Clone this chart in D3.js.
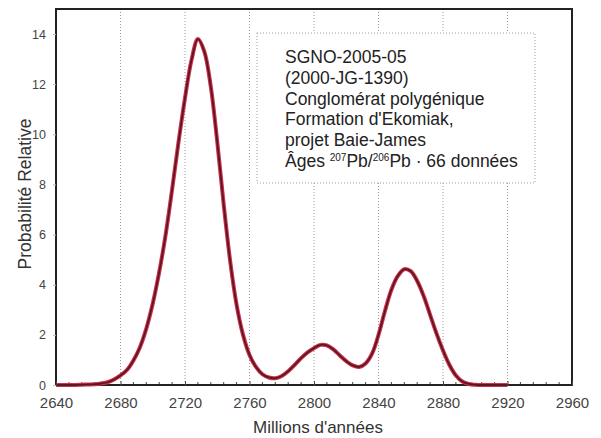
<!DOCTYPE html>
<html>
<head>
<meta charset="utf-8">
<script src="https://cdn.jsdelivr.net/npm/d3@7"></script>
<style>
  html, body { margin: 0; padding: 0; background: #fff; }
  svg { display: block; font-family: "Liberation Sans", Arial, sans-serif; }
</style>
</head>
<body>
<svg id="chart" width="601" height="438"></svg>
<script>
// ages (Ma) and relative probability
const ages = [
  2640, 2644, 2648, 2652, 2656, 2660, 2664, 2668, 2672, 2676,
  2680, 2684, 2688, 2692, 2696, 2700, 2704, 2708, 2712, 2716,
  2720, 2724, 2728, 2732, 2736, 2740, 2744, 2748, 2752, 2756,
  2760, 2764, 2768, 2772, 2776, 2780, 2784, 2788, 2792, 2796,
  2800, 2804, 2808, 2812, 2816, 2820, 2824, 2828, 2832, 2836,
  2840, 2844, 2848, 2852, 2856, 2860, 2864, 2868, 2872, 2876,
  2880, 2884, 2888, 2892, 2896, 2900, 2904, 2908, 2912, 2916, 2920
];
const prob = [
  0, 0, 0, 0, 0.01, 0.02, 0.03, 0.06, 0.11, 0.22,
  0.38, 0.6, 0.98, 1.5, 2.25, 3.25, 4.5, 6.0, 7.8, 9.7,
  11.45, 12.95, 13.8, 13.3, 11.9, 9.7, 7.2, 4.95, 3.2, 2.0,
  1.2, 0.72, 0.43, 0.3, 0.27, 0.36, 0.55, 0.8, 1.07, 1.3,
  1.47, 1.6, 1.58, 1.42, 1.18, 0.95, 0.78, 0.72, 0.86, 1.25,
  2.0, 2.95, 3.8, 4.35, 4.62, 4.54, 4.15, 3.55, 2.8, 2.05,
  1.38, 0.8, 0.38, 0.14, 0.04, 0.01, 0, 0, 0, 0, 0
];

const xTicks = [2640, 2680, 2720, 2760, 2800, 2840, 2880, 2920, 2960];
const gridAges = [2680, 2720, 2760, 2800, 2840, 2880, 2920];
const yTicks = [0, 2, 4, 6, 8, 10, 12, 14];
const legendLines = [
  "SGNO-2005-05",
  "(2000-JG-1390)",
  "Conglomérat polygénique",
  "Formation d'Ekomiak,",
  "projet Baie-James"
];

const svg = d3.select("#chart");
const pLeft = 56, pRight = 572, pTop = 9, pBottom = 385;

const x = d3.scaleLinear().domain([2640, 2960]).range([pLeft, pRight]);
const y = d3.scaleLinear().domain([0, 15]).range([pBottom, pTop]);

// dotted vertical grid
svg.append("g")
  .selectAll("line")
  .data(gridAges)
  .join("line")
  .attr("x1", d => x(d)).attr("x2", d => x(d))
  .attr("y1", pTop).attr("y2", pBottom)
  .attr("stroke", "#9a9a9a")
  .attr("stroke-width", 1)
  .attr("stroke-dasharray", "1,2");

// legend box (white, covers the grid)
const lg = svg.append("g").attr("transform", "translate(257,33)");
lg.append("rect")
  .attr("width", 278).attr("height", 150)
  .attr("fill", "#fff")
  .attr("stroke", "#9a9a9a")
  .attr("stroke-dasharray", "1,2");

lg.selectAll("text.line")
  .data(legendLines)
  .join("text")
  .attr("class", "line")
  .attr("x", 28)
  .attr("y", (d, i) => 30 + i * 20.8)
  .attr("font-size", 17.5)
  .attr("fill", "#222")
  .text(d => d);

const last = lg.append("text")
  .attr("x", 28)
  .attr("y", 30 + 5 * 20.8)
  .attr("font-size", 17.5)
  .attr("fill", "#222");
last.append("tspan").text("Âges ");
last.append("tspan").attr("font-size", 10).attr("dy", -6).text("207");
last.append("tspan").attr("dy", 6).text("Pb/");
last.append("tspan").attr("font-size", 10).attr("dy", -6).text("206");
last.append("tspan").attr("dy", 6).text("Pb · 66 données");

// curve
const line = d3.line()
  .x((d, i) => x(ages[i]))
  .y(d => y(d))
  .curve(d3.curveCatmullRom.alpha(0.5));

// x axis minor ticks
const minor = d3.range(2648, 2960, 8).filter(v => (v - 2640) % 40 !== 0);
svg.append("g")
  .selectAll("line")
  .data(minor)
  .join("line")
  .attr("x1", d => x(d)).attr("x2", d => x(d))
  .attr("y1", pBottom - 3).attr("y2", pBottom + 1)
  .attr("stroke", "#444")
  .attr("stroke-width", 1);

// frame
svg.append("rect")
  .attr("x", pLeft).attr("y", pTop)
  .attr("width", pRight - pLeft).attr("height", pBottom - pTop)
  .attr("fill", "none")
  .attr("stroke", "#222")
  .attr("stroke-width", 2);

svg.append("path")
  .datum(prob)
  .attr("d", line)
  .attr("fill", "none")
  .attr("stroke", "#d0304a")
  .attr("stroke-width", 4)
  .attr("stroke-linejoin", "round");

svg.append("path")
  .datum(prob)
  .attr("d", line)
  .attr("fill", "none")
  .attr("stroke", "#5a1822")
  .attr("stroke-width", 1.8)
  .attr("stroke-linejoin", "round");

// axes
const xAxis = svg.append("g")
  .attr("transform", `translate(0,${pBottom})`)
  .call(d3.axisBottom(x).tickValues(xTicks).tickFormat(d3.format("d")).tickSize(4).tickPadding(8));
xAxis.select(".domain").remove();
xAxis.selectAll("line").attr("stroke", "#444").attr("y1", -4).attr("y2", 1);
xAxis.selectAll("text")
  .attr("font-size", 15)
  .attr("font-family", "Liberation Sans, Arial, sans-serif")
  .attr("fill", "#444");

const yAxis = svg.append("g")
  .attr("transform", `translate(${pLeft},0)`)
  .call(d3.axisLeft(y).tickValues(yTicks).tickSize(3).tickPadding(7));
yAxis.select(".domain").remove();
yAxis.selectAll("line").attr("stroke", "#bbb");
yAxis.selectAll("text")
  .attr("font-size", 12.5)
  .attr("font-family", "Liberation Sans, Arial, sans-serif")
  .attr("fill", "#444");

// axis titles
svg.append("text")
  .attr("x", (pLeft + pRight) / 2 + 4)
  .attr("y", 433)
  .attr("text-anchor", "middle")
  .attr("font-size", 17)
  .attr("fill", "#333")
  .text("Millions d'années");

svg.append("text")
  .attr("transform", "translate(31,194) rotate(-90)")
  .attr("text-anchor", "middle")
  .attr("font-size", 17.5)
  .attr("fill", "#333")
  .text("Probabilité Relative");
</script>
</body>
</html>
